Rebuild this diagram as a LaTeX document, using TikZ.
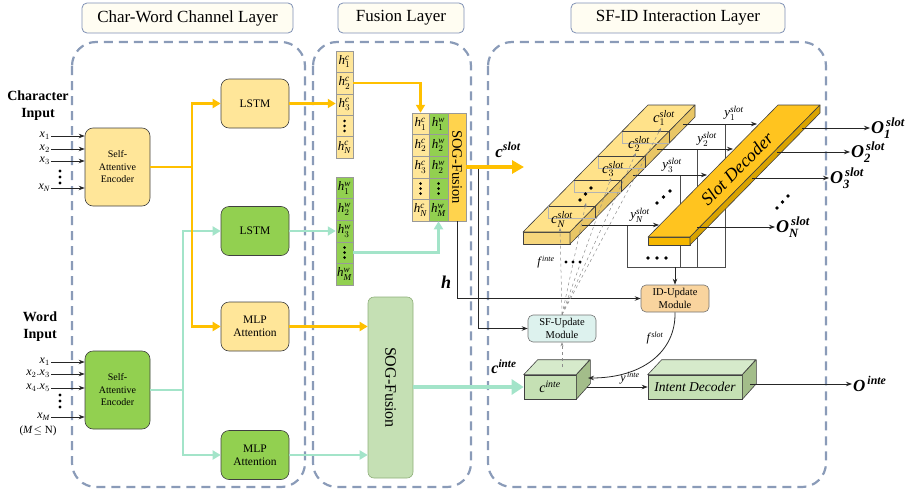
\documentclass[tikz,border=0pt]{standalone}
\usepackage{fontspec}
\usepackage{amsmath}
\setmainfont{Liberation Serif}
\usetikzlibrary{arrows.meta}
\definecolor{ygold}{HTML}{FFC000}
\definecolor{ylight}{HTML}{FFE699}
\definecolor{gbox}{HTML}{92D050}
\definecolor{mint}{HTML}{A3E4C9}
\definecolor{panelc}{HTML}{8A9BB8}
\definecolor{hdrfill}{HTML}{FFFDF2}
\definecolor{hdrline}{HTML}{7F90B5}
\definecolor{sogfill}{HTML}{C5E0B4}
\definecolor{sogline}{HTML}{8FAF7A}
\definecolor{goldcol}{HTML}{FFD34D}
\definecolor{sfufill}{HTML}{DDF2EE}
\definecolor{idufill}{HTML}{F9D49E}
\definecolor{gfront}{HTML}{C5E0B4}
\definecolor{gtop}{HTML}{D6EACB}
\definecolor{gside}{HTML}{A3BD8A}
\definecolor{ctop}{HTML}{FFE28A}
\definecolor{cfront}{HTML}{F6D67C}
\definecolor{cside}{HTML}{E9C665}
\definecolor{dtop}{HTML}{FFC41F}
\definecolor{dfront}{HTML}{F5B700}
\definecolor{dside}{HTML}{D9A300}
\newcommand\bi[1]{\text{\bfseries\itshape #1}}
\newcommand\mi[1]{\mathit{#1}}
\newcommand\tridots[1]{\foreach \k in {-5,0,5}{\fill ([yshift=\k pt]#1) circle (1.4pt);}}
\begin{document}
\begin{tikzpicture}[x=1pt,y=-1pt,
  hdr/.style={draw=hdrline,fill=hdrfill,rounded corners=5pt,line width=0.8pt,minimum height=30pt,inner sep=0pt,font=\fontsize{17}{17}\selectfont},
  panel/.style={draw=panelc,line width=2.2pt,dash pattern=on 9pt off 6pt,rounded corners=24pt},
  blk/.style={draw=black!75,line width=0.6pt,rounded corners=8pt,align=center,inner sep=0pt,minimum width=68pt,minimum height=49pt,font=\fontsize{11.5}{13}\selectfont},
  yarr/.style={draw=ygold,line width=2.7pt,-{Triangle[length=8pt,width=9pt]}},
  garr/.style={draw=mint,line width=2.7pt,-{Triangle[length=8pt,width=9pt]}},
  barr/.style={draw=black!85,line width=0.8pt,-{Stealth[length=6pt,width=4.5pt]}},
  thinl/.style={draw=black!70,line width=0.6pt},
  fdash/.style={draw=black!45,line width=0.5pt,dashed,-{Stealth[length=4pt,width=3pt]}},
  cell/.style={draw=black!40,line width=0.5pt,minimum width=17pt,minimum height=21.4pt,inner sep=0pt,font=\fontsize{13}{13}\selectfont},
  gcell/.style={cell,minimum height=21.6pt},
  lab/.style={inner sep=1pt},
  slabedge/.style={draw=black!75,line width=0.6pt,line join=round}
]
\useasboundingbox (0,0) rectangle (918,498);

% headers
\node[hdr,minimum width=211pt] (h1) at (187.5,18) {Char-Word Channel Layer};
\node[hdr,minimum width=126pt] (h2) at (401,18) {Fusion Layer};
\node[hdr,minimum width=214pt] (h3) at (678,18) {SF-ID Interaction Layer};

% panels
\draw[panel] (72,42) rectangle (305,487);
\draw[panel] (313,42) rectangle (471,487);
\draw[panel] (488,42) rectangle (826,487);

% input titles
\node[font=\fontsize{14}{17}\selectfont\bfseries,align=center] (chin) at (38,106) {Character\\Input};
\node[font=\fontsize{14}{17}\selectfont\bfseries,align=center] (wdin) at (40,327) {Word\\Input};

% encoders
\node[blk,fill=ylight,minimum width=65pt,minimum height=78pt,font=\fontsize{10}{12.5}\selectfont] (enc1) at (117.5,167) {Self-\\Attentive\\Encoder};
\node[blk,fill=gbox,minimum width=65pt,minimum height=78pt,font=\fontsize{10}{12.5}\selectfont] (enc2) at (117.5,390) {Self-\\Attentive\\Encoder};

% inputs
\begin{scope}[every node/.style={lab,anchor=east,font=\fontsize{12}{12}\selectfont}]
\node (xc1) at (51,136) {$\mi{x}_1$};
\node (xc2) at (51,149) {$\mi{x}_2$};
\node (xc3) at (51,161) {$\mi{x}_3$};
\node (xcn) at (51,188) {$\mi{x}_{\mi{N}}$};
\node (xw1) at (51,362) {$\mi{x}_1$};
\node (xw2) at (51,374) {$\mi{x}_2.\mi{x}_3$};
\node (xw4) at (51,388) {$\mi{x}_4.\mi{x}_5$};
\node (xwm) at (51,417) {$\mi{x}_{\mi{M}}$};
\end{scope}
\node[lab,font=\fontsize{11}{11}\selectfont] (mn) at (38,431) {($\mi{M}\!\leq$ N)};
\foreach \n in {xc1,xc2,xc3,xcn}{\draw[barr] (\n.east) -- (\n.east -| enc1.west);}
\foreach \n in {xw1,xw2,xw4,xwm}{\draw[barr] (\n.east) -- (\n.east -| enc2.west);}
\foreach \yy in {171,177,183}{\fill (60,\yy) circle (1.6pt);}
\foreach \yy in {395,401,407}{\fill (60,\yy) circle (1.6pt);}

% middle boxes
\node[blk,fill=ylight] (lstm1) at (255,103.5) {LSTM};
\node[blk,fill=gbox] (lstm2) at (255,231) {LSTM};
\node[blk,fill=ylight] (mlp1) at (255,326.5) {MLP\\Attention};
\node[blk,fill=gbox] (mlp2) at (255,455) {MLP\\Attention};

\coordinate (ytr) at (192,167);
\coordinate (gtr) at (183,390);
\draw[garr,-] (enc2.east) -- (gtr);
\draw[garr] (gtr) |- (lstm2.west);
\draw[garr] (gtr) |- (mlp2.west);
\draw[yarr,-] (enc1.east) -- (ytr);
\draw[yarr] (ytr) |- (lstm1.west);
\draw[yarr] (ytr) |- (mlp1.west);

% h^c column
\node[cell,fill=ylight] (hc1) at (344.5,61.7) {$\mi{h}_1^{\mi{c}}$};
\node[cell,fill=ylight] (hc2) at (344.5,83.1) {$\mi{h}_2^{\mi{c}}$};
\node[cell,fill=ylight] (hc3) at (344.5,104.5) {$\mi{h}_3^{\mi{c}}$};
\node[cell,fill=ylight] (hc4) at (344.5,125.9) {};
\node[cell,fill=ylight] (hc5) at (344.5,147.3) {$\mi{h}_{\mi{N}}^{\mi{c}}$};
\tridots{hc4.center}
% h^w column
\node[gcell,fill=gbox] (hw1) at (344.5,187.8) {$\mi{h}_1^{\mi{w}}$};
\node[gcell,fill=gbox] (hw2) at (344.5,209.4) {$\mi{h}_2^{\mi{w}}$};
\node[gcell,fill=gbox] (hw3) at (344.5,231) {$\mi{h}_3^{\mi{w}}$};
\node[gcell,fill=gbox] (hw4) at (344.5,252.6) {};
\node[gcell,fill=gbox] (hw5) at (344.5,274.2) {$\mi{h}_{\mi{M}}^{\mi{w}}$};
\tridots{hw4.center}

\draw[yarr] (lstm1.east) -- (lstm1.east -| hc3.west);
\draw[garr] (lstm2.east) -- (lstm2.east -| hw3.west);

% fusion grid
\node[gcell,fill=ylight] (fc1) at (420.5,123.8) {$\mi{h}_1^{\mi{c}}$};
\node[gcell,fill=ylight] (fc2) at (420.5,145.4) {$\mi{h}_2^{\mi{c}}$};
\node[gcell,fill=ylight] (fc3) at (420.5,167) {$\mi{h}_3^{\mi{c}}$};
\node[gcell,fill=ylight] (fc4) at (420.5,188.6) {};
\node[gcell,fill=ylight] (fc5) at (420.5,210.2) {$\mi{h}_{\mi{N}}^{\mi{c}}$};
\node[gcell,fill=gbox,minimum width=19pt] (fw1) at (438.5,123.8) {$\mi{h}_1^{\mi{w}}$};
\node[gcell,fill=gbox,minimum width=19pt] (fw2) at (438.5,145.4) {$\mi{h}_2^{\mi{w}}$};
\node[gcell,fill=gbox,minimum width=19pt] (fw3) at (438.5,167) {$\mi{h}_2^{\mi{w}}$};
\node[gcell,fill=gbox,minimum width=19pt] (fw4) at (438.5,188.6) {};
\node[gcell,fill=gbox,minimum width=19pt] (fw5) at (438.5,210.2) {$\mi{h}_{\mi{M}}^{\mi{w}}$};
\tridots{fc4.center}
\tridots{fw4.center}
\node[draw=black!40,line width=0.5pt,fill=goldcol,minimum width=18pt,minimum height=108pt,inner sep=0pt] (sog1) at (457,167) {};
\node[rotate=-90,font=\fontsize{14.5}{15}\selectfont] at (sog1.center) {SOG-Fusion};

\draw[yarr] (hc2.east) -| (fc1.north);
\draw[garr] (hw4.east) -| (fw5.south);

% big SOG-Fusion
\node[draw=sogline,fill=sogfill,line width=0.6pt,rounded corners=6pt,minimum width=45pt,minimum height=181pt,inner sep=0pt] (sog2) at (390.5,387.5) {};
\node[rotate=-90,font=\fontsize{16}{16}\selectfont] at (sog2.center) {SOG-Fusion};
\draw[yarr] (mlp1.east) -- (mlp1.east -| sog2.west);
\draw[garr] (mlp2.east) -- (mlp2.east -| sog2.west);

% modules
\node[draw=black!55,fill=sfufill,line width=0.6pt,rounded corners=5pt,minimum width=68pt,minimum height=27pt,inner sep=0pt,align=center,font=\fontsize{10.5}{12.5}\selectfont] (sfu) at (562,328.5) {SF-Update\\Module};
\node[draw=black!55,fill=idufill,line width=0.6pt,rounded corners=5pt,minimum width=68pt,minimum height=27pt,inner sep=0pt,align=center,font=\fontsize{10.5}{12.5}\selectfont] (idu) at (675,298.5) {ID-Update\\Module};

% c^slot arrow and branches
\coordinate (cs) at (524,167);
\coordinate (cb) at (478,167);
\draw[barr] (cb) |- (sfu.west);
\draw[barr] (sog1.south) |- (idu.west);
\draw[draw=ygold,line width=3.5pt,-{Triangle[length=12pt,width=13pt]}] (sog1.east) -- (cs);
\node[lab,font=\fontsize{17}{17}\selectfont] (cslotl) at (508,150) {$\bi{c}^{\bi{slot}}$};
\node[lab,font=\fontsize{18}{18}\selectfont] (hl) at (446,282) {$\bi{h}$};

% y-arrow bracket lines
\coordinate (y1s) at (683,124); \coordinate (y1e) at (757,124);
\coordinate (y2s) at (657,149); \coordinate (y2e) at (733,149);
\coordinate (y3s) at (633,175); \coordinate (y3e) at (707,175);
\coordinate (yns) at (582,225); \coordinate (yne) at (659,225);
\coordinate (bk) at (675,267);
\draw[thinl] (627,225) -- (627,267) -- (725,267) -- (725,124);
\draw[thinl] (680,175) -- (680,267);
\draw[thinl] (697,149) -- (697,267);
\draw[barr] (bk) -- (idu.north);
\foreach \xx in {648,657,666}{\fill (\xx,258) circle (1.9pt);}

% c slot slab
\draw[slabedge,fill=cfront] (523,232) -- (570,232) -- (570,244) -- (523,244) -- cycle;
\draw[slabedge,fill=ctop] (523,232) -- (570,232) -- (695,105) -- (648,105) -- cycle;
\draw[slabedge,fill=cside] (570,232) -- (695,105) -- (695,117) -- (570,244) -- cycle;
\foreach \yy in {206,180,156,131}{
  \pgfmathsetmacro\xl{523+(232-\yy)*0.9843}
  \draw[black!30,line width=0.5pt] (\xl,\yy) -- (\xl,\yy+12) -- (\xl+47,\yy+12);
  \draw[slabedge] (\xl,\yy) -- (\xl+47,\yy) -- (\xl+47,\yy+12);
}
\begin{scope}[every node/.style={lab,font=\fontsize{14.5}{15}\selectfont}]
\node (cl1) at (664,118) {$\mi{c}_1^{\mi{slot}}$};
\node (cl2) at (639,144) {$\mi{c}_2^{\mi{slot}}$};
\node (cl3) at (613,169) {$\mi{c}_3^{\mi{slot}}$};
\node (cln) at (562,219) {$\mi{c}_{\mi{N}}^{\mi{slot}}$};
\end{scope}
\foreach \p in {(580,200),(585.5,194),(591,188)}{\fill \p circle (1.9pt);}

% y arrows
\draw[barr] (y1s) -- (y1e);
\draw[barr] (y2s) -- (y2e);
\draw[barr] (y3s) -- (y3e);
\draw[barr] (yns) -- (yne);
\begin{scope}[every node/.style={lab,font=\fontsize{13}{13}\selectfont}]
\node (yl1) at (734,113) {$\mi{y}_1^{\mi{slot}}$};
\node (yl2) at (707,139) {$\mi{y}_2^{\mi{slot}}$};
\node (yl3) at (672,165) {$\mi{y}_3^{\mi{slot}}$};
\node (yln) at (640,215) {$\mi{y}_{\mi{N}}^{\mi{slot}}$};
\end{scope}
\foreach \p in {(657,203),(663.5,197),(670,191)}{\fill \p circle (1.9pt);}

% slot decoder slab
\draw[slabedge,fill=dfront] (648,237) -- (690,237) -- (690,245) -- (648,245) -- cycle;
\draw[slabedge,fill=dtop] (648,237) -- (690,237) -- (820,105) -- (778,105) -- cycle;
\draw[slabedge,fill=dside] (690,237) -- (820,105) -- (820,113) -- (690,245) -- cycle;
\node[rotate=45.4,font=\fontsize{18}{18}\selectfont\itshape] (sdec) at (737,169) {Slot Decoder};

% slot outputs
\coordinate (o1s) at (802,128);
\coordinate (o2s) at (777,152);
\coordinate (o3s) at (752,178);
\coordinate (ons) at (697,227);
\begin{scope}[every node/.style={lab,anchor=west,font=\fontsize{18}{18}\selectfont}]
\node (o1) at (870,128) {$\bi{O}_{\bi{1}}^{\,\bi{slot}}$};
\node (o2) at (850,152) {$\bi{O}_{\bi{2}}^{\,\bi{slot}}$};
\node (o3) at (829,178) {$\bi{O}_{\bi{3}}^{\,\bi{slot}}$};
\node (on) at (775,227) {$\bi{O}_{\bi{N}}^{\,\bi{slot}}$};
\end{scope}
\draw[barr] (o1s) -- (o1.west);
\draw[barr] (o2s) -- (o2.west);
\draw[barr] (o3s) -- (o3.west);
\draw[barr] (ons) -- (on.west);
\foreach \p in {(777,208),(782.5,202),(788,196)}{\fill \p circle (1.9pt);}

% f^inte dashed lines
\draw[fdash] (sfu.north) -- (560,228);
\draw[fdash] (sfu.north) -- (586,203);
\draw[fdash] (sfu.north) -- (611,178);
\draw[fdash] (sfu.north) -- (636,153);
\draw[fdash] (sfu.north) -- (661,128);
\node[lab,font=\fontsize{12}{12}\selectfont] (finte) at (546,262) {$\mi{f}^{\,\mi{inte}}$};
\foreach \xx in {566,573,580}{\fill (\xx,262) circle (1.6pt);}

% c^inte box
\node[draw=black!75,line width=0.6pt,fill=gfront,minimum width=52pt,minimum height=24pt,inner sep=0pt,font=\fontsize{14}{14}\selectfont] (cinte) at (550,387) {$\mi{c}^{\mi{inte}}$};
\draw[slabedge,fill=gtop] (cinte.north west) -- ++(14,-15) -- ++(52,0) -- (cinte.north east) -- cycle;
\draw[slabedge,fill=gside] (cinte.north east) -- ++(14,-15) -- ++(0,24) -- (cinte.south east) -- cycle;
\node[lab,font=\fontsize{16}{16}\selectfont] (cintel) at (504,367) {$\bi{c}^{\bi{inte}}$};
\draw[draw=mint,line width=4pt,-{Triangle[length=12pt,width=15pt]}] (sog2.east |- cinte.west) -- (cinte.west);
\coordinate (citop) at (562,367);
\draw[fdash] (citop) -- (sfu.south);

% intent decoder
\node[draw=black!75,line width=0.6pt,fill=gfront,minimum width=94pt,minimum height=24pt,inner sep=0pt,font=\fontsize{13.5}{14}\selectfont\itshape] (intd) at (695,387) {Intent Decoder};
\draw[slabedge,fill=gtop] (intd.north west) -- ++(14,-15) -- ++(94,0) -- (intd.north east) -- cycle;
\draw[slabedge,fill=gside] (intd.north east) -- ++(14,-15) -- ++(0,24) -- (intd.south east) -- cycle;

\coordinate (cis) at (588,378);
\coordinate (cio) at (587,387);
\draw[barr] (idu.south) .. controls (676,352) and (642,378) .. (cis);
\node[lab,font=\fontsize{12}{12}\selectfont] (fslot) at (655,338) {$\mi{f}^{\,\mi{slot}}$};
\draw[barr] (cio) -- (intd.west);
\node[lab,font=\fontsize{12}{12}\selectfont] (yinte) at (630,378) {$\mi{y}^{\,\mi{inte}}$};

\coordinate (ido) at (750,384);
\node[lab,anchor=west,font=\fontsize{17}{17}\selectfont] (oint) at (852,384) {$\bi{O}^{\,\bi{inte}}$};
\draw[barr] (ido) -- (oint.west);
\end{tikzpicture}
\end{document}
